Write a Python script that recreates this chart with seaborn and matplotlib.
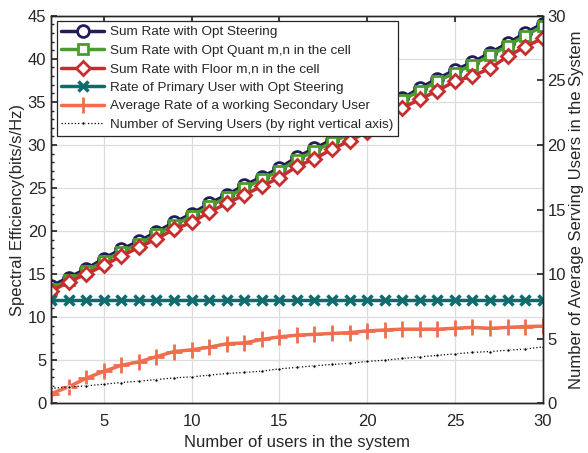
import matplotlib
matplotlib.use("Agg")
import matplotlib.pyplot as plt
import seaborn as sns
from matplotlib.ticker import MultipleLocator

users = list(range(2, 31))

sum_opt_steering = [13.6, 14.6, 15.6, 16.8, 17.9, 18.8, 19.9, 21.0, 22.0, 23.2, 24.2,
                    25.3, 26.3, 27.3, 28.6, 29.6, 30.6, 31.6, 32.7, 33.7, 35.4, 36.6,
                    37.7, 38.7, 39.6, 40.7, 41.8, 43.0, 44.1]
sum_opt_quant = [13.3, 14.3, 15.3, 16.5, 17.6, 18.5, 19.6, 20.7, 21.7, 22.9, 23.9,
                 25.0, 26.0, 27.0, 28.3, 29.3, 30.3, 31.3, 32.4, 33.4, 35.2, 36.3,
                 37.4, 38.4, 39.3, 40.4, 41.5, 42.7, 43.8]
sum_floor = [13.0, 14.1, 15.0, 16.0, 17.1, 18.1, 19.1, 20.2, 21.0, 22.2, 23.2,
             24.2, 25.2, 26.2, 27.5, 28.4, 29.5, 30.5, 31.5, 32.5, 34.3, 35.3,
             36.3, 37.4, 38.0, 38.9, 40.3, 41.4, 42.4]
primary_rate = [12.0] * 29
secondary_rate = [1.1, 1.9, 2.9, 3.7, 4.4, 4.8, 5.4, 6.0, 6.2, 6.5, 6.9, 7.0, 7.4,
                  7.7, 7.9, 8.0, 8.1, 8.2, 8.4, 8.5, 8.6, 8.6, 8.6, 8.7, 8.8, 8.7,
                  8.8, 8.9, 8.95]
serving_users = [1.14, 1.26, 1.34, 1.47, 1.6, 1.7, 1.83, 1.96, 2.04, 2.17, 2.3,
                 2.38, 2.48, 2.66, 2.77, 2.9, 3.0, 3.08, 3.23, 3.33, 3.46, 3.59,
                 3.7, 3.82, 3.93, 4.0, 4.1, 4.19, 4.36]

sns.set_theme(style="white")
plt.rcParams['font.family'] = ['Liberation Sans', 'DejaVu Sans']

fig = plt.figure(figsize=(5.88, 4.53), dpi=100)
ax = fig.add_axes([0.087, 0.110, 0.836, 0.855])

lw = 2.5
sns.lineplot(x=users, y=sum_opt_steering, ax=ax, color="#211d58", lw=lw, marker="o",
             markersize=8.5, markerfacecolor="white", markeredgecolor="#211d58",
             markeredgewidth=2.0, label="Sum Rate with Opt Steering")
sns.lineplot(x=users, y=sum_opt_quant, ax=ax, color="#4a9d2c", lw=lw, marker="s",
             markersize=7.5, markerfacecolor="white", markeredgecolor="#4a9d2c",
             markeredgewidth=2.0, label="Sum Rate with Opt Quant m,n in the cell")
sns.lineplot(x=users, y=sum_floor, ax=ax, color="#c62d2f", lw=lw, marker="D",
             markersize=7.5, markerfacecolor="white", markeredgecolor="#c62d2f",
             markeredgewidth=2.0, label="Sum Rate with Floor m,n in the cell")
sns.lineplot(x=users, y=primary_rate, ax=ax, color="#0e6c6d", lw=lw, marker="x",
             markersize=7, markeredgecolor="#0e6c6d", markeredgewidth=2.5,
             label="Rate of Primary User with Opt Steering")
sns.lineplot(x=users, y=secondary_rate, ax=ax, color="#ee6e4e", lw=lw, marker="+",
             markersize=11, markeredgecolor="#ee6e4e", markeredgewidth=2.0,
             label="Average Rate of a working Secondary User")

ax2 = ax.twinx()
sns.lineplot(x=users, y=serving_users, ax=ax2, color="black", lw=0.9, linestyle=":",
             marker=".", markersize=5, label="Number of Serving Users (by right vertical axis)")

ax.set_xlim(2, 30)
ax.set_ylim(0, 45)
ax2.set_ylim(0, 30)
ax.set_xticks([5, 10, 15, 20, 25, 30])
ax.set_yticks(range(0, 46, 5))
ax.yaxis.set_minor_locator(MultipleLocator(1))
ax2.set_yticks(range(0, 31, 5))

ax.grid(True, which="major", color="#dcdcdc", lw=0.9)
ax.set_axisbelow(True)

ax.tick_params(axis="both", which="both", direction="in", labelsize=12, colors="#262626",
               top=True, right=False, length=4)
ax.tick_params(axis="x", pad=8)
ax.tick_params(axis="y", which="minor", length=2.5, left=True)
ax2.tick_params(axis="y", direction="in", labelsize=12, colors="#262626", length=4)

for a in (ax, ax2):
    for s in a.spines.values():
        s.set_color("#262626")
        s.set_linewidth(1.0)

ax.set_xlabel("Number of users in the system", fontsize=12, color="#262626", labelpad=4)
ax.set_ylabel("Spectral Efficiency(bits/s/Hz)", fontsize=12, color="#262626", labelpad=2)
ax2.set_ylabel("Number of Average Serving Users in the System", fontsize=12,
               color="#262626", labelpad=2)

h1, l1 = ax.get_legend_handles_labels()
h2, l2 = ax2.get_legend_handles_labels()
ax.get_legend().remove()
ax2.get_legend().remove()
leg = ax2.legend(h1 + h2, l1 + l2, loc="upper left", fontsize=9.7, frameon=True,
                 fancybox=False, edgecolor="#262626", handlelength=3.2,
                 borderaxespad=0.4, labelspacing=0.45, borderpad=0.35, handletextpad=0.4)
leg.get_frame().set_linewidth(0.9)
leg.get_frame().set_alpha(1)

fig.savefig("out.png", dpi=100)
